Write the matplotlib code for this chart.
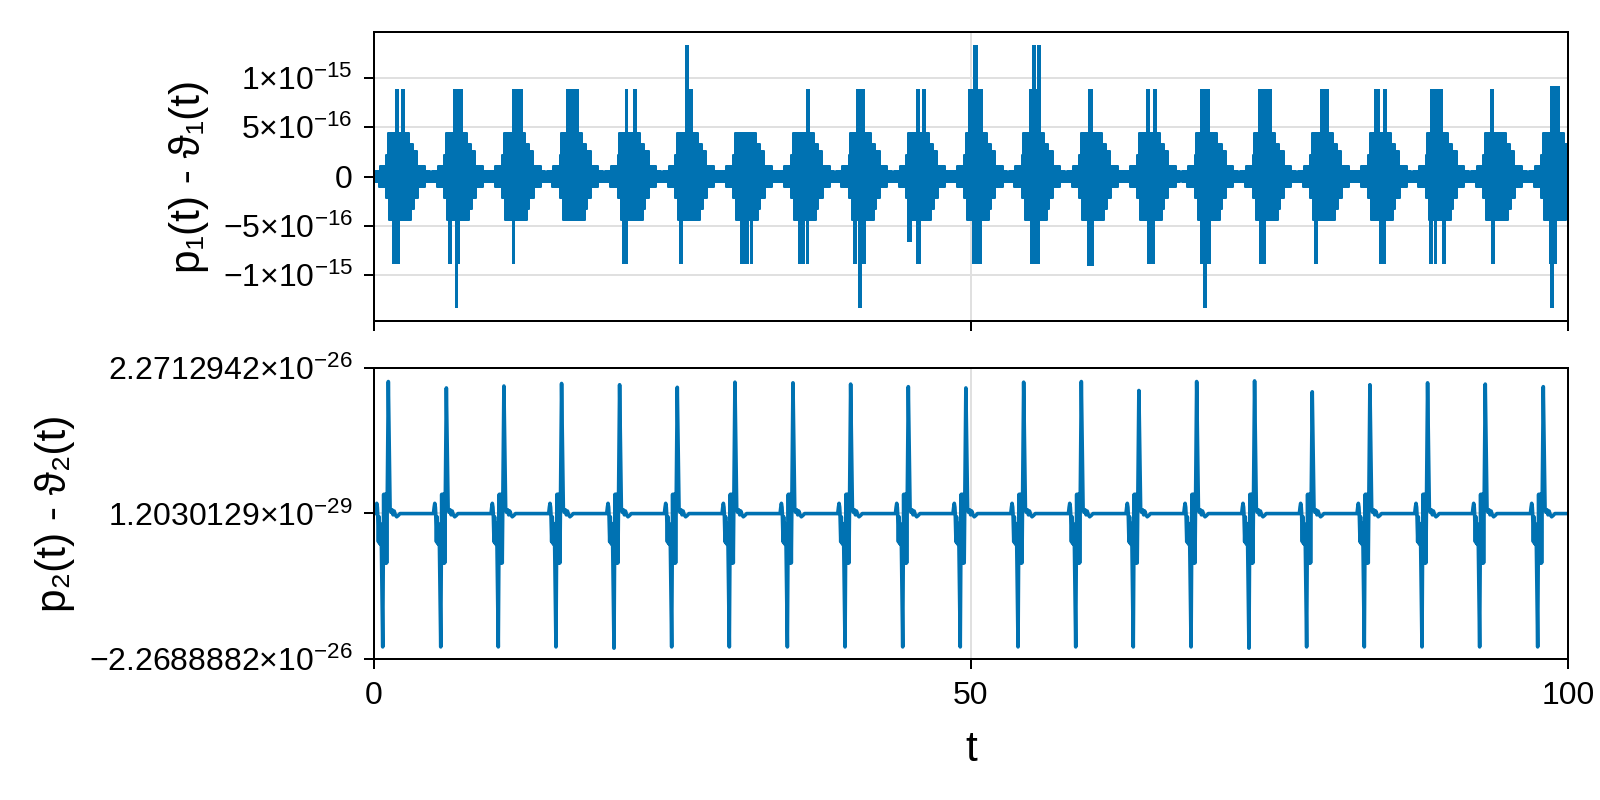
import numpy as np
import matplotlib
matplotlib.use("Agg")
import matplotlib.pyplot as plt

plt.rcParams['font.family'] = ['Liberation Sans', 'DejaVu Sans']
plt.rcParams['mathtext.fontset'] = 'custom'
plt.rcParams['mathtext.rm'] = 'Liberation Sans'
plt.rcParams['mathtext.it'] = 'Liberation Sans:italic'
plt.rcParams['mathtext.bf'] = 'Liberation Sans:bold'

BLUE = '#0072b2'
GRID = '#e0e0e0'
EPS = 2.0 ** -53          # step size of the round-off levels in the top panel
U26 = 1e-26               # unit of the lower panel

# times of the big spikes in the lower panel (bursts in the top panel follow them)
spike_t = [0.73, 5.59, 10.41, 15.24, 20.10, 24.93, 29.76, 34.62, 39.45, 44.28, 49.10,
           53.94, 58.77, 63.59, 68.43, 73.28, 78.11, 82.94, 87.77, 92.60, 97.46]
# peak heights of the up / down spikes (x 1e-26)
spike_up = [2.06, 1.96, 1.99, 2.03, 2.01, 1.97, 2.05, 2.04, 2.02, 1.98, 1.96,
            2.05, 2.06, 1.92, 2.06, 2.07, 1.90, 2.01, 2.04, 2.02, 1.98]
spike_dn = [-2.08, -2.08, -2.08, -2.08, -2.10, -2.08, -2.08, -2.08, -2.08, -2.08, -2.08,
            -2.08, -2.08, -2.08, -2.08, -2.10, -2.08, -2.08, -2.08, -2.08, -2.08]

# shape of one event in the lower panel: offset from spike time, value (x 1e-26)
# 'dn' / 'up' mark the two big spikes, taken from the lists above
shape_dt = [-0.78, -0.61, -0.55, -0.50, -0.45, -0.42, -0.36, -0.31, -0.27, -0.23, -0.19,
            -0.15, -0.11, 0.00, 0.08, 0.13, 0.18, 0.23, 0.28, 0.33, 0.47, 0.62, 0.70,
            0.78, 0.87, 0.96, 1.06, 1.17, 1.30, 1.45]
shape_v = [0.0, 0.0, 0.10, 0.16, 0.10, 0.0, -0.44, -0.05, -0.46, -0.15, -0.48,
           -0.25, -0.50, 'dn', 0.30, -0.77, 0.30, -0.77, 0.30, -0.77, 'up', 0.05, 0.02,
           0.06, -0.02, 0.04, -0.02, -0.05, -0.03, 0.0]

# envelope of the round-off noise in one burst (top panel), levels in EPS
hi_dt = [-0.90, -0.75, -0.25, 0.30, 0.45, 2.20, 2.55, 2.90, 3.55]
hi_lv = [0.25, 0.5, 1, 2, 4, 3, 2.3, 1, 0.5]
lo_dt = [-0.90, -0.80, -0.30, 0.30, 0.55, 2.40, 2.60, 2.95, 3.55]
lo_lv = [-0.25, -0.5, -1, -2, -4, -3, -2, -1, -0.5]

# isolated excursions in the top panel: start, end, level (EPS)
bar_t0 = [1.73, 2.29, 6.59, 11.56, 16.05, 20.99, 21.66, 26.35, 26.08, 36.15, 40.37,
          45.40, 45.90, 49.78, 50.20, 54.88, 55.08, 55.50, 59.83, 64.66, 65.21, 69.18,
          74.00, 79.23, 83.75, 84.53, 88.44, 93.47, 98.50,
          1.54, 6.23, 6.76, 7.04, 11.56, 20.77, 25.57, 30.65, 31.49, 35.54, 36.18,
          40.09, 40.57, 40.85, 44.66, 45.40, 50.06, 54.94, 59.69, 64.71, 69.18, 69.46,
          74.14, 78.76, 84.20, 88.39, 88.81, 89.44, 93.55, 98.41, 98.49]
bar_t1 = [2.07, 2.62, 7.48, 12.51, 17.14, 21.27, 22.00, 26.75, 26.41, 36.52, 41.15,
          45.73, 46.23, 51.03, 50.61, 55.50, 55.42, 55.83, 60.19, 64.99, 65.55, 70.02,
          75.20, 79.98, 84.25, 84.87, 89.50, 93.83, 99.30,
          2.21, 6.50, 7.04, 7.20, 11.84, 21.27, 25.91, 31.38, 31.77, 36.10, 36.46,
          40.48, 40.85, 41.20, 45.03, 45.79, 50.89, 55.78, 60.30, 65.41, 70.07, 69.79,
          74.71, 79.04, 84.75, 88.67, 89.06, 89.78, 93.89, 99.05, 98.83]
bar_lv = [8, 8, 8, 8, 8, 8, 8, 8, 12, 8, 8,
          8, 8, 8, 12, 8, 12, 12, 8, 8, 8, 8,
          8, 8, 8, 8, 8, 8, 8.3,
          -8, -8, -12, -8, -8, -8, -8, -8, -8, -8, -8,
          -8, -12, -8, -6, -8, -8, -8, -8.2, -8, -8, -12,
          -8, -8, -8, -8, -8, -8, -8, -8, -12]

t_min, t_max = 0, 100
top_ticks = [-1e-15, -5e-16, 0, 5e-16, 1e-15]
top_labels = [r'$-1{\times}10^{-15}$', r'$-5{\times}10^{-16}$', '0',
              r'$5{\times}10^{-16}$', r'$1{\times}10^{-15}$']
bot_ticks = [-2.2688882e-26, 1.2030129e-29, 2.2712942e-26]
bot_labels = [r'$-2.2688882{\times}10^{-26}$', r'$1.2030129{\times}10^{-29}$',
              r'$2.2712942{\times}10^{-26}$']

# ---- lower series
t2 = [t_min]
y2 = [0.0]
for ts, up, dn in zip(spike_t, spike_up, spike_dn):
    for dt, v in zip(shape_dt, shape_v):
        if v == 'up':
            v = up
        elif v == 'dn':
            v = dn
        if ts + dt > t_min:
            t2.append(ts + dt)
            y2.append(v)
t2.append(t_max)
y2.append(0.0)
t2 = np.array(t2)
y2 = np.array(y2) * U26


def envelope(offsets, levels):
    tt, yy = [], []
    for ts in spike_t:
        for dt, v in zip(offsets, levels):
            tt.append(max(ts + dt, t_min))
            yy.append(v)
    tt.append(t_max)
    yy.append(yy[-1])
    return np.array(tt), np.array(yy) * EPS


t_hi, y_hi = envelope(hi_dt, hi_lv)
t_lo, y_lo = envelope(lo_dt, lo_lv)

fig = plt.figure(figsize=(16, 8), dpi=100)
ax1 = fig.add_axes([374 / 1600, 1 - 321 / 800, 1194 / 1600, 289 / 800])
ax2 = fig.add_axes([374 / 1600, 1 - 659 / 800, 1194 / 1600, 291 / 800])

for ax in (ax1, ax2):
    ax.set_axisbelow(True)
    ax.grid(True, color=GRID, linewidth=1.44)
    for s in ax.spines.values():
        s.set_linewidth(1.44)
    ax.tick_params(direction='out', length=7.2, width=1.44, labelsize=23, pad=8)
    ax.set_xlim(t_min, t_max)
    ax.set_xticks([0, 50, 100])

# top panel
ax1.fill_between(t_hi, 0, y_hi, step='post', facecolor=BLUE, edgecolor=BLUE, linewidth=1.44)
ax1.fill_between(t_lo, y_lo, 0, step='post', facecolor=BLUE, edgecolor=BLUE, linewidth=1.44)
ax1.bar(bar_t0, np.array(bar_lv) * EPS, width=np.array(bar_t1) - np.array(bar_t0),
        align='edge', color=BLUE, linewidth=0)
ax1.set_ylim(-1.4655e-15, 1.4655e-15)
ax1.set_yticks(top_ticks)
ax1.set_yticklabels(top_labels)
ax1.tick_params(axis='x', labelbottom=False)
ax1.set_ylabel('p₁(t) - ϑ₁(t)', fontsize=30.5)
ax1.yaxis.set_label_coords((189 - 374) / 1194, 0.5)
ax1.yaxis.label.set_va('center')

# bottom panel
ax2.plot(t2, y2, color=BLUE, linewidth=2.6)
ax2.set_ylim(bot_ticks[0], bot_ticks[-1])
ax2.set_yticks(bot_ticks)
ax2.set_yticklabels(bot_labels)
ax2.set_xticklabels(['0', '50', '100'])
ax2.tick_params(axis='x', pad=9)
ax2.set_xlabel('t', fontsize=30.5, labelpad=13)
ax2.set_ylabel('p₂(t) - ϑ₂(t)', fontsize=30.5)
ax2.yaxis.set_label_coords((55 - 374) / 1194, 0.5)
ax2.yaxis.label.set_va('center')

fig.savefig('out.png', dpi=100)
